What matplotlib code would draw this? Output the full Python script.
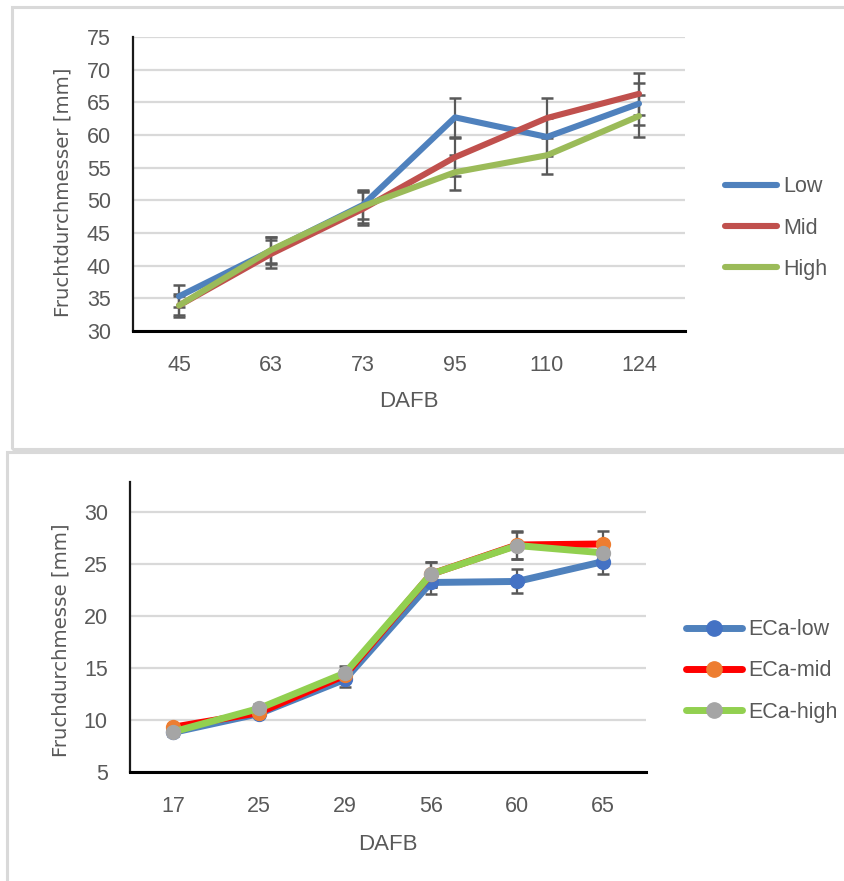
import matplotlib
matplotlib.use("Agg")
import matplotlib.pyplot as plt
from matplotlib.lines import Line2D
from matplotlib.patches import Rectangle

# fruit diameter over days after full bloom, two trials
days_top = ["45", "63", "73", "95", "110", "124"]
low = [35.3, 42.3, 49.3, 62.7, 59.7, 64.8]
mid = [33.9, 41.8, 48.7, 56.6, 62.6, 66.3]
high = [33.9, 42.4, 49.1, 54.3, 56.9, 62.9]
low_err = [1.7, 2.1, 2.1, 3.0, 2.9, 3.2]
mid_err = [1.7, 2.2, 2.5, 2.9, 3.0, 3.2]
high_err = [1.4, 2.0, 2.5, 2.7, 2.9, 3.2]

days_bot = ["17", "25", "29", "56", "60", "65"]
eca_low = [8.8, 10.6, 13.9, 23.2, 23.3, 25.2]
eca_mid = [9.3, 10.7, 14.3, 24.0, 26.8, 26.9]
eca_high = [8.85, 11.1, 14.5, 24.0, 26.75, 26.05]
eca_low_err = [0.3, 0.3, 0.7, 1.1, 1.15, 1.2]
eca_mid_err = [0.3, 0.3, 0.5, 1.2, 1.3, 1.2]
eca_high_err = [0.3, 0.4, 0.7, 1.2, 1.3, 0.3]

INK = "#595959"; GRID = "#d9d9d9"; FRAME = "#d9d9d9"
SANS = ["Liberation Sans", "DejaVu Sans"]
FS = 15.5
W, H = 845, 881

fig = plt.figure(figsize=(W / 100, H / 100), dpi=100)


def px_axes(left, top, right, bottom):
    return fig.add_axes([left / W, 1 - bottom / H, (right - left) / W, (bottom - top) / H])


def frame(left, top, right, bottom):
    fig.patches.append(Rectangle((left / W, 1 - bottom / H), (right - left) / W, (bottom - top) / H,
                                 transform=fig.transFigure, fill=False, ec=FRAME, lw=2.2))


def style(ax, labels, ylim, yticks, ylabel, ylab_xy, xlab_y):
    ax.set_xlim(-0.5, len(labels) - 0.5)
    ax.set_ylim(*ylim)
    ax.set_yticks(yticks)
    ax.set_xticks(range(len(labels)))
    ax.set_xticklabels(labels)
    ax.yaxis.grid(True, color=GRID, lw=1.6)
    ax.set_axisbelow(True)
    for s in ("top", "right"):
        ax.spines[s].set_visible(False)
    ax.spines["left"].set_color("#1a1a1a"); ax.spines["left"].set_linewidth(1.6)
    ax.spines["bottom"].set_color("#000000"); ax.spines["bottom"].set_linewidth(2.2)
    ax.tick_params(axis="y", length=0, pad=16, labelcolor=INK)
    ax.tick_params(axis="x", length=0, pad=17, labelcolor=INK)
    for t in ax.get_xticklabels() + ax.get_yticklabels():
        t.set_fontfamily(SANS); t.set_fontsize(FS)
    ax.set_xlabel("DAFB", fontsize=FS + 0.5, family=SANS, color=INK, va="top")
    ax.xaxis.set_label_coords(0.5, xlab_y)
    ax.set_ylabel(ylabel, fontsize=14.2, family="DejaVu Sans", color=INK)
    ax.yaxis.set_label_coords(*ylab_xy)


def legend(ax, handles, x, y, hlen):
    leg = ax.legend(handles=handles, loc="center left", bbox_to_anchor=(x / W, 1 - y / H),
                    bbox_transform=fig.transFigure, frameon=False, borderpad=0, borderaxespad=0,
                    handlelength=hlen, handletextpad=0.3, labelspacing=0.95,
                    prop={"family": SANS, "size": FS})
    for t in leg.get_texts():
        t.set_color(INK)


EB = dict(ecolor="#595959", elinewidth=1.6, capsize=4, capthick=1.8)

# --- top chart ---
frame(12, 7, 860, 449)
ax1 = px_axes(133, 37, 685, 331)
x = range(len(days_top))
top_series = [(low, low_err, "#4f81bd", "Low"),
              (mid, mid_err, "#c0504d", "Mid"),
              (high, high_err, "#9bbb59", "High")]
handles = []
for y, e, c, lab in top_series:
    ax1.errorbar(x, y, yerr=e, color=c, lw=4.4, solid_capstyle="round", **EB)
    handles.append(Line2D([], [], color=c, lw=4.4, solid_capstyle="round", label=lab))
style(ax1, days_top, (30, 75), range(30, 76, 5), "Fruchtdurchmesser [mm]", (-0.109, 0.473), -0.205)
legend(ax1, handles, 725, 228, 2.4)

# --- bottom chart ---
frame(7, 452, 860, 900)
ax2 = px_axes(130, 482, 646, 772)
x = range(len(days_bot))
bot_series = [(eca_low, eca_low_err, "#4f81bd", "#4472c4", "ECa-low"),
              (eca_mid, eca_mid_err, "#ff0000", "#ed7d31", "ECa-mid"),
              (eca_high, eca_high_err, "#92d050", "#a5a5a5", "ECa-high")]
handles = []
for y, e, lc, mc, lab in bot_series:
    ax2.errorbar(x, y, yerr=e, color=lc, lw=5, marker="o", ms=10, mfc=mc, mec=mc,
                 solid_capstyle="round", **EB)
    handles.append(Line2D([], [], color=lc, lw=5, marker="o", ms=11, mfc=mc, mec=mc,
                          solid_capstyle="round", label=lab))
style(ax2, days_bot, (5, 32.85), range(5, 31, 5), "Fruchdurchmesse [mm]", (-0.116, 0.455), -0.213)
legend(ax2, handles, 686, 671, 2.6)

fig.savefig("out.png", dpi=100)
